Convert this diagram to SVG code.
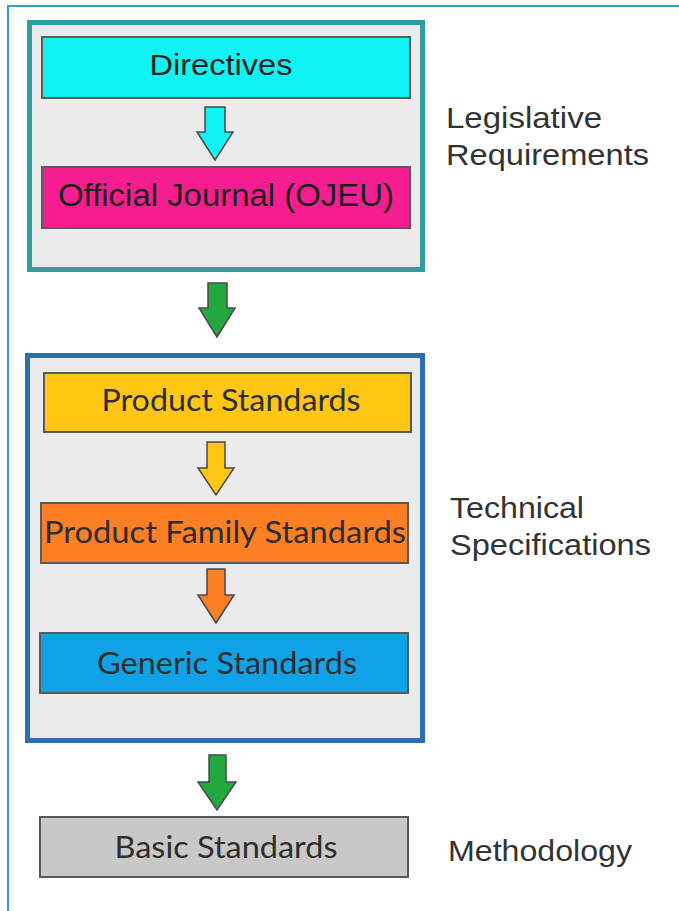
<svg xmlns="http://www.w3.org/2000/svg" width="679" height="911" viewBox="0 0 679 911">
<style>
.frame{fill:none;stroke:#2b9fd0;stroke-width:2}
.group{fill:#ebebeb;stroke-width:5}
.box{stroke:#5a5a5a;stroke-width:2}
.arrow{stroke:#4a4a4a;stroke-width:1.5;stroke-linejoin:miter}
.h{font-family:"Liberation Sans",Arial,sans-serif;fill:#1e1e1e;text-anchor:middle}
.c{font-family:Lato,"Open Sans",sans-serif;fill:#2e2e2e;text-anchor:middle}
.side{font-family:"Liberation Sans",Arial,sans-serif;fill:#333333;font-size:29px}
</style>
<rect width="679" height="911" fill="#ffffff"/>
<path class="frame" d="M8,911 V6 H679"/>

<g id="legislative-group">
<rect class="group" x="29.5" y="22.5" width="393" height="247" stroke="#2e9e9e"/>
</g>
<g id="directives">
<rect class="box" x="42" y="37" width="368" height="61" fill="#10f3f5"/>
<text class="h" x="221" y="75" font-size="30" textLength="143" lengthAdjust="spacingAndGlyphs">Directives</text>
</g>
<g id="ojeu">
<rect class="box" x="42" y="167" width="368" height="61" fill="#f51d8f"/>
<text class="h" x="226" y="206" font-size="31" textLength="336" lengthAdjust="spacingAndGlyphs">Official Journal (OJEU)</text>
</g>
<g id="label-legislative">
<text class="side" x="446" y="128" textLength="156" lengthAdjust="spacingAndGlyphs">Legislative</text>
<text class="side" x="446" y="165" textLength="203" lengthAdjust="spacingAndGlyphs">Requirements</text>
</g>

<g id="technical-group">
<rect class="group" x="27.5" y="355.5" width="395" height="385" stroke="#2a6db0"/>
</g>
<g id="product-standards">
<rect class="box" x="44" y="373" width="367" height="59" fill="#ffc614"/>
<text class="c" x="231" y="411" font-size="30" textLength="259" lengthAdjust="spacingAndGlyphs">Product Standards</text>
</g>
<g id="product-family-standards">
<rect class="box" x="41" y="503" width="367" height="60" fill="#fd7f23"/>
<text class="c" x="225" y="543" font-size="30" textLength="362" lengthAdjust="spacingAndGlyphs">Product Family Standards</text>
</g>
<g id="generic-standards">
<rect class="box" x="40" y="633" width="368" height="60" fill="#10a2e6"/>
<text class="c" x="227" y="674" font-size="30" textLength="260" lengthAdjust="spacingAndGlyphs">Generic Standards</text>
</g>
<g id="label-technical">
<text class="side" x="450" y="518" textLength="134" lengthAdjust="spacingAndGlyphs">Technical</text>
<text class="side" x="450" y="555" textLength="201" lengthAdjust="spacingAndGlyphs">Specifications</text>
</g>

<g id="basic-standards">
<rect class="box" x="40" y="817" width="368" height="60" fill="#c8c8c8"/>
<text class="c" x="226" y="858" font-size="30" textLength="223" lengthAdjust="spacingAndGlyphs">Basic Standards</text>
</g>
<g id="label-methodology">
<text class="side" x="448" y="861" textLength="184" lengthAdjust="spacingAndGlyphs">Methodology</text>
</g>

<g id="connectors">
<polygon class="arrow" fill="#10f3f5" points="205,107 225,107 225,132 233,132 215,160 197,132 205,132"/>
<polygon class="arrow" fill="#22a83e" points="208,283 227,283 227,308 235,308 217,337 199,308 208,308"/>
<polygon class="arrow" fill="#ffc614" points="207,442 225,442 225,468 234,468 216,495 198,468 207,468"/>
<polygon class="arrow" fill="#fd7f23" points="207,569 225,569 225,595 234,595 216,623 198,595 207,595"/>
<polygon class="arrow" fill="#22a83e" points="209,755 226,755 226,782 236,782 217,810 198,782 209,782"/>
</g>
</svg>
